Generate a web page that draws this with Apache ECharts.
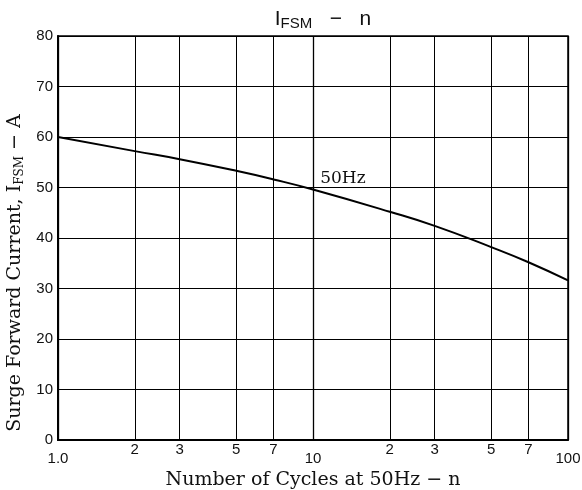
<!DOCTYPE html>
<html>
<head>
<meta charset="utf-8">
<script src="https://cdn.jsdelivr.net/npm/echarts@6/dist/echarts.min.js"></script>
<style>
  html, body { margin: 0; padding: 0; background: #fff; }
  #chart { width: 582px; height: 490px; }
</style>
</head>
<body>
<div id="chart"></div>
<script>
// surge current vs number of cycles (50Hz)
const cycles = [1, 2, 3, 5, 7, 10, 20, 30, 50, 70, 100];
const current = [60, 57.2, 55.6, 53.3, 51.6, 49.6, 45.2, 42.4, 38.2, 35.2, 31.6];
const minorCycles = [2, 3, 5, 7, 20, 30, 50, 70];
const minorLabels = ['2', '3', '5', '7', '2', '3', '5', '7'];
const yMin = 0, yMax = 80, yStep = 10;

const serif = '"DejaVu Serif", "Liberation Serif", serif';
const sans = '"Liberation Sans", Arial, sans-serif';

const chart = echarts.init(document.getElementById('chart'));

const option = {
  backgroundColor: '#fff',
  animation: false,
  title: {
    text: '{a|I}{b|FSM}{a|   \u2212   n}',
    left: 318,
    textAlign: 'center',
    top: 2,
    textStyle: {
      rich: {
        a: { fontFamily: sans, fontSize: 21, fontWeight: 'normal', color: '#111' },
        b: { fontFamily: sans, fontSize: 15, fontWeight: 'normal', color: '#111', padding: [9, 0, 0, 0] }
      }
    }
  },
  grid: {
    left: 58, right: 14, top: 36, bottom: 50,
    outerBoundsMode: 'none',
    containLabel: false,
    show: true, borderColor: '#000', borderWidth: 1.5
  },
  xAxis: {
    type: 'log',
    logBase: 10,
    min: 1,
    max: 100,
    name: 'Number of Cycles at 50Hz \u2212 n',
    nameLocation: 'middle',
    nameGap: 31,
    nameTextStyle: { fontFamily: serif, fontSize: 19, color: '#111' },
    axisLine: { lineStyle: { color: '#000', width: 2 } },
    axisTick: { show: false },
    axisLabel: {
      fontFamily: sans, fontSize: 15, color: '#111', margin: 11,
      formatter: v => (v === 1 ? '1.0' : String(v))
    },
    splitLine: { show: true, lineStyle: { color: '#000', width: 1.3 } }
  },
  yAxis: {
    type: 'value',
    min: yMin,
    max: yMax,
    interval: yStep,
    name: '{a|Surge Forward Current, I}{b|FSM}{a| \u2212 A}',
    nameLocation: 'middle',
    nameRotate: 90,
    nameGap: 31,
    nameTextStyle: {
      padding: [0, 70, 0, 0],
      rich: {
        a: { fontFamily: serif, fontSize: 19, color: '#111' },
        b: { fontFamily: serif, fontSize: 12, color: '#111', padding: [8, 0, 0, 0] }
      }
    },
    axisLine: { show: true, lineStyle: { color: '#000', width: 2 } },
    axisTick: { show: false },
    axisLabel: { fontFamily: sans, fontSize: 15, color: '#111', margin: 5 },
    splitLine: { show: true, lineStyle: { color: '#000', width: 1 } }
  },
  series: [
    {
      type: 'line',
      data: cycles.map((c, i) => [c, current[i]]),
      smooth: true,
      symbol: 'none',
      lineStyle: { color: '#000', width: 2 },
      markLine: {
        silent: true,
        symbol: 'none',
        animation: false,
        lineStyle: { color: '#000', type: 'solid', width: 1 },
        label: {
          show: true,
          position: 'start',
          distance: 2,
          fontFamily: sans,
          fontSize: 15,
          color: '#111',
          formatter: p => minorLabels[minorCycles.indexOf(p.value)]
        },
        data: minorCycles.map(c => ({ xAxis: c }))
      },
      markPoint: {
        silent: true,
        symbol: 'rect',
        symbolSize: 1,
        itemStyle: { color: 'rgba(0,0,0,0)' },
        label: {
          show: true,
          formatter: '50Hz',
          fontFamily: serif,
          fontSize: 17,
          color: '#111',
          position: 'inside'
        },
        data: [{ coord: [13.1, 51.7] }]
      }
    }
  ]
};

chart.setOption(option);
</script>
</body>
</html>
